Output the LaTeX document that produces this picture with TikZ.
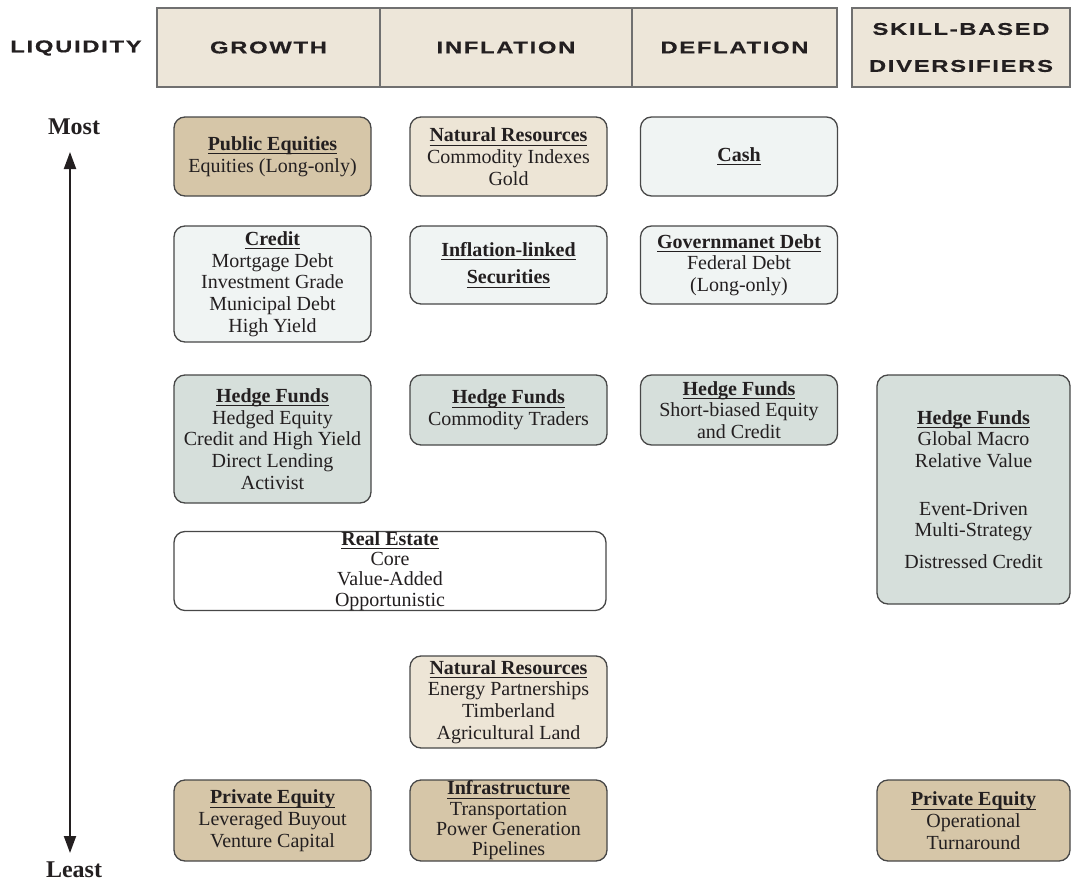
\documentclass[tikz,border=0pt]{standalone}
\usepackage{fontspec}
\setmainfont{Liberation Serif}
\newfontfamily\hdfont[FakeStretch=1.4,LetterSpace=10,FakeBold=0.6]{Liberation Sans}
\usetikzlibrary{arrows.meta}
\definecolor{hdfill}{HTML}{EDE6D9}
\definecolor{hdline}{HTML}{707070}
\definecolor{bord}{HTML}{474747}
\definecolor{tan}{HTML}{D6C6A8}
\definecolor{beige}{HTML}{EDE5D6}
\definecolor{pale}{HTML}{F0F4F3}
\definecolor{sage}{HTML}{D6DFDB}
\definecolor{ink}{HTML}{231F20}
\newcommand\bxfont{\fontsize{20}{21.7}\selectfont}
\newcommand\hfnt{\hdfont\bfseries\fontsize{17}{37}\selectfont}
\newcommand\ttl[1]{\setbox0\hbox{\textbf{#1}}\rlap{\rule[-4pt]{\wd0}{1.1pt}}\box0}
\begin{document}
\begin{tikzpicture}[x=1pt,y=-1pt,
  bx/.style={draw=bord, line width=1.3pt, rounded corners=11pt, align=center,
    inner sep=0pt, text=ink, font=\bxfont},
  tight/.style={font=\fontsize{20}{20.3}\selectfont},
  col/.style={minimum width=197pt},
  hd/.style={draw=hdline, line width=1.3pt, fill=hdfill, inner sep=0pt,
    minimum height=79pt, align=center, text=ink, font=\hfnt},
  lbl/.style={text=ink, inner sep=0pt, font=\bfseries\fontsize{24}{26}\selectfont}]
\useasboundingbox (0,0) rectangle (1073,883);

% header
\node[hd, minimum width=223pt] (hg) at (268.5,47.5) {GROWTH};
\node[hd, minimum width=252pt] (hi) at (506,47.5) {INFLATION};
\node[hd, minimum width=205pt] (hdf) at (734.5,47.5) {DEFLATION};
\node[hd, minimum width=218pt] (hs) at (961,47.5) {SKILL-BASED\\DIVERSIFIERS};
\node[text=ink, inner sep=0pt, font=\hfnt] (liq) at (76,48) {LIQUIDITY};

% row 1
\node[bx, col, fill=tan, minimum height=79pt] (pe) at (272.5,156.5)
  {\ttl{Public Equities}\\Equities (Long-only)};
\node[bx, col, fill=beige, minimum height=79pt] (nr1) at (508.5,156.5)
  {\ttl{Natural Resources}\\Commodity Indexes\\Gold};
\node[bx, col, fill=pale, minimum height=79pt] (cash) at (739,156.5)
  {\ttl{Cash}};

% row 2
\node[bx, col, fill=pale, minimum height=116pt] (cr) at (272.5,284)
  {\ttl{Credit}\\Mortgage Debt\\Investment Grade\\Municipal Debt\\High Yield};
\node[bx, col, fill=pale, minimum height=78pt] (il) at (508.5,265)
  {\ttl{Inflation-linked}\\[6pt]\ttl{Securities}};
\node[bx, col, fill=pale, minimum height=78pt] (gd) at (739,265)
  {\ttl{Governmanet Debt}\\Federal Debt\\(Long-only)};

% row 3
\node[bx, col, fill=sage, minimum height=128pt] (hf1) at (272.5,439)
  {\ttl{Hedge Funds}\\Hedged Equity\\Credit and High Yield\\Direct Lending\\Activist};
\node[bx, col, fill=sage, minimum height=70pt] (hf2) at (508.5,410)
  {\ttl{Hedge Funds}\\Commodity Traders};
\node[bx, col, fill=sage, minimum height=70pt] (hf3) at (739,410)
  {\ttl{Hedge Funds}\\Short-biased Equity\\and Credit};
\node[bx, fill=sage, minimum width=193pt, minimum height=229pt] (hf4) at (973.5,489.5)
  {\ttl{Hedge Funds}\\Global Macro\\Relative Value\\[26pt]Event-Driven\\Multi-Strategy\\[10pt]Distressed Credit};

% row 4
\node[bx, tight, fill=white, minimum width=432pt, minimum height=78pt] (re) at (390,571)
  {\ttl{Real Estate}\\Core\\Value-Added\\Opportunistic};

% row 5
\node[bx, col, fill=beige, minimum height=92pt] (nr2) at (508.5,702)
  {\ttl{Natural Resources}\\Energy Partnerships\\Timberland\\Agricultural Land};

% row 6
\node[bx, col, fill=tan, minimum height=81pt] (pe2) at (272.5,820.5)
  {\ttl{Private Equity}\\Leveraged Buyout\\Venture Capital};
\node[bx, col, tight, fill=tan, minimum height=81pt] (inf) at (508.5,820.5)
  {\ttl{Infrastructure}\\Transportation\\Power Generation\\Pipelines};
\node[bx, fill=tan, minimum width=193pt, minimum height=81pt] (pe3) at (973.5,820.5)
  {\ttl{Private Equity}\\Operational\\Turnaround};

% liquidity axis
\node[lbl] (most) at (74,127) {Most};
\node[lbl] (least) at (74,870) {Least};
\coordinate (atop) at (70,152);
\coordinate (abot) at (70,853);
\draw[ink, line width=2pt, {Triangle[length=17pt,width=12pt]}-{Triangle[length=17pt,width=12pt]}]
  (atop) -- (abot);
\end{tikzpicture}
\end{document}
